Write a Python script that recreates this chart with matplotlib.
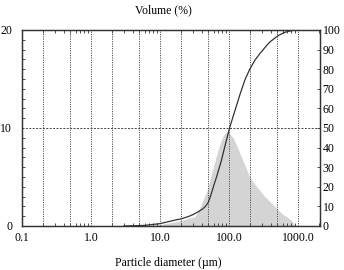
import matplotlib
matplotlib.use("Agg")
import matplotlib.pyplot as plt
from matplotlib.ticker import FixedLocator, NullFormatter
import numpy as np

# Frequency distribution (volume %, left axis)
freq_d = [6, 10, 15, 20, 25, 32, 36, 40, 48, 56, 62, 66, 72, 78, 85, 92, 100,
          115, 130, 144, 170, 200, 240, 281, 330, 390, 490, 600, 700, 800, 870, 920]
freq_v = [0, 0.15, 0.35, 0.55, 0.75, 0.95, 1.5, 2.3, 3.6, 5.4, 6.5, 7.2, 8.1, 8.8,
          9.35, 9.6, 9.5, 9.0, 8.2, 7.4, 6.2, 5.0, 4.2, 3.6, 3.0, 2.5, 1.8, 1.2,
          0.9, 0.6, 0.2, 0]

# Cumulative distribution (%, right axis)
cum_d = [3, 6, 10, 16.5, 20, 25.7, 30, 36, 42, 46, 50, 53, 56, 61, 66, 72, 78,
         87, 97, 103, 115, 130, 144, 170, 200, 240, 281, 350, 390, 500, 600,
         700, 850, 1000]
cum_v = [0, 0.3, 1.2, 3.0, 3.6, 4.8, 5.8, 7.3, 8.8, 10.2, 12.0, 14.4, 17.0, 21.3,
         25, 29.5, 33.7, 40.5, 47, 50.5, 56, 62, 67, 74.5, 80, 84.8, 88, 92,
         93.8, 96.8, 98.3, 99.2, 99.8, 100]

x_ticks = [0.1, 1, 10, 100, 1000]
x_ticklabels = ["0.1", "1.0", "10.0", "100.0", "1000.0"]
grid_x = [0.2, 0.5, 1, 2, 5, 10, 20, 50, 100, 200, 500, 1000]

plt.rcParams['font.family'] = ['Liberation Serif', 'DejaVu Serif']
fs = 8.5
edge = '#333333'

fig = plt.figure(figsize=(3.44, 2.70), dpi=100)
ax = fig.add_axes([0.064, 0.163, 0.866, 0.726])
ax.set_xscale('log')
ax.set_xlim(0.1, 2080)
ax.set_ylim(0, 20)

ax.fill_between(freq_d, freq_v, 0, color='#d4d4d4', lw=0, zorder=1)

for g in grid_x:
    ax.axvline(g, color='#555555', lw=0.7, ls=(0, (1.2, 1.2)), zorder=2)
ax.axhline(10, color='#444444', lw=0.7, ls=(0, (2, 1.5)), zorder=2)

ax.set_xticks(x_ticks)
ax.set_xticklabels(x_ticklabels)
minors = [m * 10.0 ** e for e in range(-1, 4) for m in range(2, 10)]
ax.xaxis.set_minor_locator(FixedLocator(minors))
ax.xaxis.set_minor_formatter(NullFormatter())
ax.tick_params(axis='x', which='major', direction='in', length=0, pad=4,
               labelsize=fs, top=False)
ax.tick_params(axis='x', which='minor', direction='in', length=2.5, width=0.6,
               top=True, bottom=True, color=edge)
ax.set_yticks([0, 10, 20])
ax.set_yticks(np.arange(0, 21, 1), minor=True)
ax.tick_params(axis='y', which='major', direction='in', length=0, pad=7,
               labelsize=fs)
ax.tick_params(axis='y', which='minor', direction='in', length=2.5, width=0.6,
               color=edge)

ax2 = ax.twinx()
ax2.set_ylim(0, 100)
ax2.plot(cum_d, cum_v, color='#333333', lw=0.9, zorder=3)
ax2.set_yticks(np.arange(0, 101, 10))
ax2.tick_params(axis='y', direction='in', length=2.5, width=0.6, pad=2,
                labelsize=fs, color=edge)

for a in (ax, ax2):
    for s in a.spines.values():
        s.set_color(edge)
        s.set_linewidth(0.9)

fig.text(0.474, 0.962, "Volume (%)", ha='center', va='center', fontsize=fs)
fig.text(0.488, 0.026, "Particle diameter (\u00b5m)", ha='center', va='center',
         fontsize=fs)

fig.savefig("out.png", dpi=100)
